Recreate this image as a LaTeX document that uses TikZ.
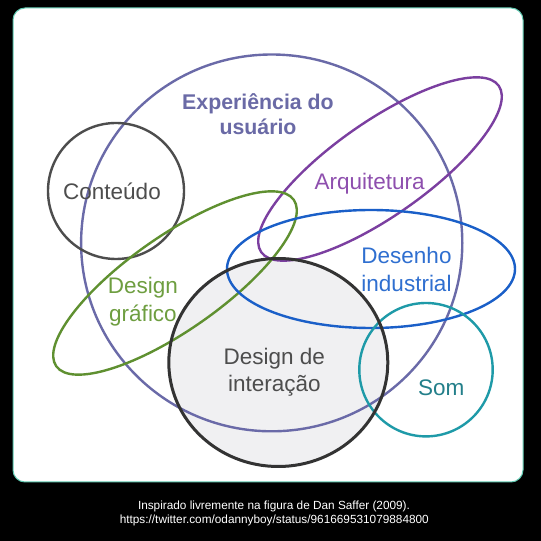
\documentclass[tikz,border=0pt]{standalone}
\usepackage{fontspec}
\setmainfont{Liberation Sans}
\definecolor{uxc}{HTML}{6A6AA8}
\definecolor{uxt}{HTML}{6A6AA6}
\definecolor{conc}{HTML}{4D4D4D}
\definecolor{arqc}{HTML}{7B3FA0}
\definecolor{arqt}{HTML}{8E4FAE}
\definecolor{grc}{HTML}{5F9030}
\definecolor{grt}{HTML}{6E9E40}
\definecolor{dic}{HTML}{1A5FC8}
\definecolor{dit}{HTML}{2F6FD0}
\definecolor{inc}{HTML}{333333}
\definecolor{inf}{HTML}{F0F0F2}
\definecolor{somc}{HTML}{1E9AA8}
\definecolor{somt}{HTML}{237F8A}
\definecolor{framec}{HTML}{5FC8B0}
\tikzset{
  x=1pt,y=1pt,
  ring/.style={line width=2.4pt},
  lbl/.style={anchor=base,inner sep=0pt,font=\fontsize{22.5}{26}\selectfont},
  captxt/.style={anchor=base,inner sep=0pt,text=white,font=\fontsize{11.8}{13}\selectfont}
}
\begin{document}
\begin{tikzpicture}
\fill[black] (0,0) rectangle (541,541);
\useasboundingbox (0,0) rectangle (541,541);
\draw[fill=white,draw=framec,line width=1pt,rounded corners=12pt] (13,59) rectangle (523,533);
% interaction fill
\fill[inf] (278.3,178.5) ellipse [x radius=109.5, y radius=104];
% rings
\draw[ring,uxc] (271.7,298.1) ellipse [x radius=190.6, y radius=188.4];
\draw[ring,conc] (116,350) circle [radius=68];
\draw[ring,arqc] (380,372) ellipse [x radius=145, y radius=47, rotate=35];
\draw[ring,grc] (175,258) ellipse [x radius=145, y radius=47, rotate=35];
\draw[ring,dic] (371,272) ellipse [x radius=144, y radius=59];
\draw[ring,somc] (426,171.3) circle [radius=66.7];
\draw[line width=3pt,inc] (278.3,178.5) ellipse [x radius=109.5, y radius=104];
% labels
\node[lbl,text=uxt,font=\bfseries\fontsize{21.3}{25}\selectfont] (ux1) at (258,431) {Experiência do};
\node[lbl,text=uxt,font=\bfseries\fontsize{21.3}{25}\selectfont] (ux2) at (258,406) {usuário};
\node[lbl,text=conc] (con) at (112,341.7) {Conteúdo};
\node[lbl,text=arqt] (arq) at (369.6,351) {Arquitetura};
\node[lbl,text=dit] (des1) at (406.5,277) {Desenho};
\node[lbl,text=dit] (des2) at (406.5,249.3) {industrial};
\node[lbl,text=grt] (gr1) at (143,247) {Design};
\node[lbl,text=grt] (gr2) at (143,219.3) {gráfico};
\node[lbl,text=conc] (int1) at (274.3,176) {Design de};
\node[lbl,text=conc] (int2) at (274.3,149.3) {interação};
\node[lbl,text=somt] (som) at (441.3,145) {Som};
\node[captxt] (c1) at (274,31) {Inspirado livremente na figura de Dan Saffer (2009).};
\node[captxt] (c2) at (274.3,17.7) {https://twitter.com/odannyboy/status/961669531079884800};
\end{tikzpicture}
\end{document}
